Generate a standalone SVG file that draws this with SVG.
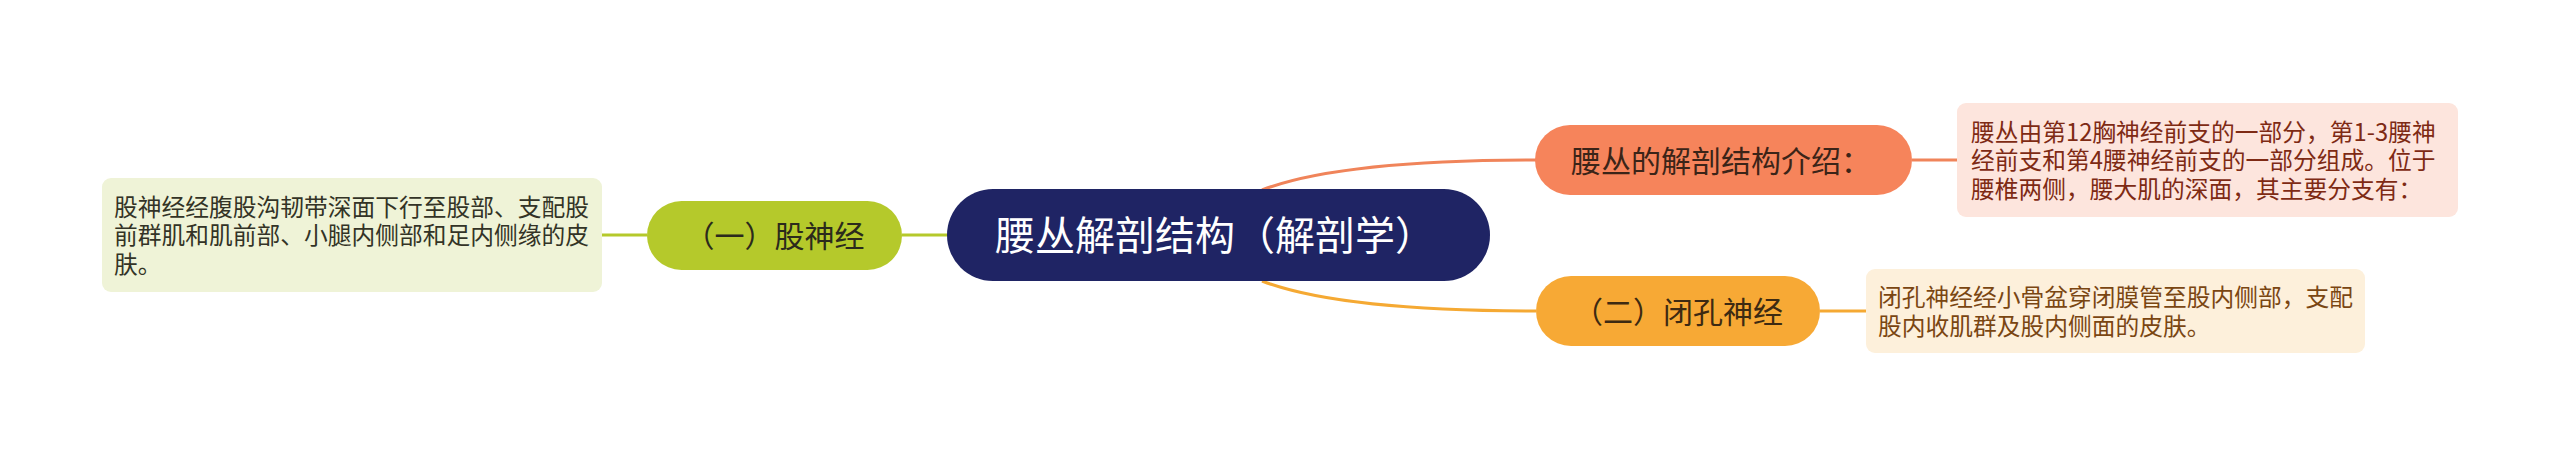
<svg xmlns="http://www.w3.org/2000/svg" width="2560" height="456" viewBox="0 0 2560 456">
<style>
text{font-family:"Noto Sans CJK SC","Noto Sans",sans-serif}
.c{fill:none;stroke-width:3}
.leaf{font-size:23.75px}
.pill{font-size:30px}
</style>
<rect width="2560" height="456" fill="#ffffff"/>
<g id="connectors">
<path class="c" stroke="#b5c92b" d="M602,235 H647 M902,235 H948"/>
<path class="c" stroke="#f0845a" d="M1262,190 Q1340,160 1536,160 M1912,160 H1957"/>
<path class="c" stroke="#f5a933" d="M1262,281 Q1340,311 1536,311 M1820,311 H1866"/>
</g>
<g id="center">
<rect x="947" y="189" width="543" height="92" rx="46" fill="#1f2464"/>
<text x="995" y="250" font-size="40" fill="#ffffff">腰丛解剖结构（解剖学）</text>
</g>
<g id="n1">
<rect x="647" y="201" width="255" height="69" rx="34.5" fill="#b5c92b"/>
<text x="774.5" y="247" class="pill" text-anchor="middle" fill="#2b2a1c">（一）股神经</text>
</g>
<g id="leaf1">
<rect x="102" y="178" width="500" height="114" rx="9" fill="#eff3d7"/>
<text class="leaf" fill="#333326"><tspan x="114" y="215.5">股神经经腹股沟韧带深面下行至股部、支配股</tspan><tspan x="114" y="244">前群肌和肌前部、小腿内侧部和足内侧缘的皮</tspan><tspan x="114" y="272.5">肤。</tspan></text>
</g>
<g id="n2">
<rect x="1535" y="125" width="377" height="70" rx="35" fill="#f6845b"/>
<text x="1571" y="171.5" class="pill" fill="#3b2418">腰丛的解剖结构介绍：</text>
</g>
<g id="leaf2">
<rect x="1957" y="103" width="501" height="114" rx="9" fill="#fde5dd"/>
<text class="leaf" fill="#7e2a14"><tspan x="1971" y="140.5">腰丛由第12胸神经前支的一部分，第1-3腰神</tspan><tspan x="1971" y="169">经前支和第4腰神经前支的一部分组成。位于</tspan><tspan x="1971" y="197.5">腰椎两侧，腰大肌的深面，其主要分支有：</tspan></text>
</g>
<g id="n3">
<rect x="1536" y="276" width="284" height="70" rx="35" fill="#f7a935"/>
<text x="1678" y="322.5" class="pill" text-anchor="middle" fill="#3d2a12">（二）闭孔神经</text>
</g>
<g id="leaf3">
<rect x="1866" y="269" width="499" height="84" rx="9" fill="#fdf0db"/>
<text class="leaf" fill="#7a4612"><tspan x="1878" y="306">闭孔神经经小骨盆穿闭膜管至股内侧部，支配</tspan><tspan x="1878" y="334.5">股内收肌群及股内侧面的皮肤。</tspan></text>
</g>
</svg>
